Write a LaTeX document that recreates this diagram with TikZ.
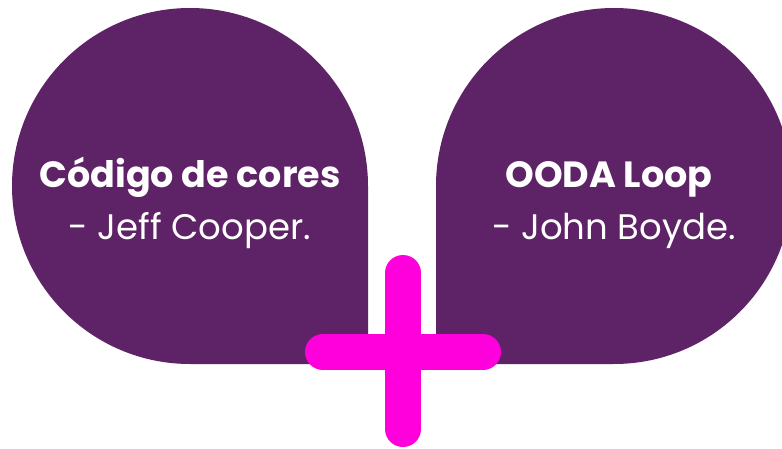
\documentclass[tikz,border=0pt]{standalone}
\usepackage{fontspec}
\setmainfont{Poppins}
\definecolor{blobpurple}{RGB}{94,34,102}
\definecolor{plusmagenta}{RGB}{255,0,221}
\begin{document}
\begin{tikzpicture}[x=1pt,y=1pt,
  blob/.style={fill=blobpurple,draw=none},
  plusbar/.style={draw=plusmagenta,line width=36pt,line cap=round},
  titletext/.style={anchor=base,inner sep=0pt,text=white,font=\fontsize{36.5}{40}\selectfont\bfseries},
  subtext/.style={anchor=base,inner sep=0pt,text=white,font=\fontsize{35.5}{40}\selectfont}]
\useasboundingbox (0,0) rectangle (782,448);
\clip (0,0) rectangle (782,448);
% left blob
\fill[blob] (368,84) -- (190,84) arc[start angle=-90,end angle=-360,radius=178] -- cycle;
% right blob
\fill[blob] (436,84) -- (614,84) arc[start angle=-90,end angle=180,radius=178] -- cycle;
% texts
\node[titletext] (lt) at (190,260) {Código de cores};
\node[subtext] (ls) at (190,209) {- Jeff Cooper.};
\node[titletext] (rt) at (609,260) {OODA Loop};
\node[subtext] (rs) at (614,209) {- John Boyde.};
% plus sign
\coordinate (vtop) at (403,175);
\coordinate (vbot) at (403,19);
\coordinate (hl) at (323,96);
\coordinate (hr) at (483,96);
\draw[plusbar] (vtop) -- (vbot);
\draw[plusbar] (hl) -- (hr);
\end{tikzpicture}
\end{document}
